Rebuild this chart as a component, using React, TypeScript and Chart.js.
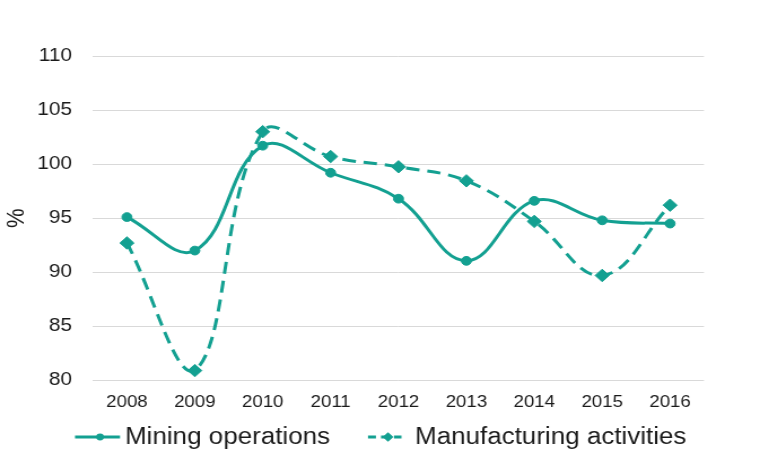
import React, { useEffect, useRef } from "react";
import { Chart, registerables } from "chart.js";

Chart.register(...registerables);

const categories = ["2008", "2009", "2010", "2011", "2012", "2013", "2014", "2015", "2016"];
const miningValues = [95.1, 92.0, 101.7, 99.2, 96.8, 91.05, 96.6, 94.8, 94.5];
const manufacturingValues = [92.7, 80.9, 103.0, 100.7, 99.75, 98.45, 94.7, 89.7, 96.2];
const seriesLabels = ["Mining operations", "Manufacturing activities"];
const yTicks = [80, 85, 90, 95, 100, 105, 110];

const TEAL = "#13A091";
const TEXT = "#1a1a1a";
const FONT = '"Liberation Sans", Arial, sans-serif';
const W = 673; // logical width, stretched horizontally to 760
const H = 473;
const S = 760 / W;

const legendPlugin = {
  id: "customLegend",
  afterDraw(chart: any) {
    const ctx = chart.ctx as CanvasRenderingContext2D;
    const y = 437;
    const items = [
      { x0: 66.4, x1: 106.3, mx: 88.6, tx: 110.7, dash: [] as number[], style: "circle" },
      { x0: 325.9, x1: 355.5, mx: 343.6, tx: 367.5, dash: [7, 4.5], style: "diamond" },
    ];
    items.forEach((it, i) => {
      const ds = chart.data.datasets[i];
      ctx.save();
      ctx.strokeStyle = ds.borderColor;
      ctx.lineWidth = 3;
      ctx.setLineDash(it.dash);
      ctx.beginPath();
      ctx.moveTo(it.x0, y);
      ctx.lineTo(it.x1, y);
      ctx.stroke();
      ctx.setLineDash([]);
      ctx.fillStyle = ds.borderColor;
      ctx.beginPath();
      if (it.style === "circle") {
        ctx.arc(it.mx, y, 3.4, 0, Math.PI * 2);
      } else {
        const r = 4.8;
        ctx.moveTo(it.mx, y - r);
        ctx.lineTo(it.mx + r, y);
        ctx.lineTo(it.mx, y + r);
        ctx.lineTo(it.mx - r, y);
        ctx.closePath();
      }
      ctx.fill();
      ctx.fillStyle = TEXT;
      ctx.font = `23px ${FONT}`;
      ctx.textBaseline = "middle";
      ctx.textAlign = "left";
      ctx.fillText(ds.label, it.tx, y + 1);
      ctx.restore();
    });
  },
};

export default function App() {
  const canvasRef = useRef<HTMLCanvasElement | null>(null);

  useEffect(() => {
    document.body.style.margin = "0";
    const canvas = canvasRef.current;
    if (!canvas) return;
    const chart = new Chart(canvas, {
      type: "line",
      data: {
        labels: categories,
        datasets: [
          {
            label: seriesLabels[0],
            data: miningValues,
            borderColor: TEAL,
            backgroundColor: TEAL,
            borderWidth: 3,
            tension: 0.4,
            pointStyle: "circle",
            pointRadius: 4.4,
            pointBorderWidth: 1,
            pointBackgroundColor: TEAL,
            pointBorderColor: TEAL,
            fill: false,
          },
          {
            label: seriesLabels[1],
            data: manufacturingValues,
            borderColor: TEAL,
            backgroundColor: TEAL,
            borderWidth: 3,
            borderDash: [12, 7],
            tension: 0.4,
            pointStyle: "rectRot",
            pointRadius: 6.2,
            pointBorderWidth: 1,
            pointBackgroundColor: TEAL,
            pointBorderColor: TEAL,
            fill: false,
          },
        ],
      },
      options: {
        responsive: true,
        maintainAspectRatio: false,
        animation: false,
        layout: { padding: { top: 56, right: W - 704 / S, bottom: 0, left: 0 } },
        plugins: {
          legend: { display: false },
          tooltip: { enabled: false },
          title: { display: false },
        },
        scales: {
          x: {
            offset: true,
            grid: { display: false, drawTicks: false },
            border: { display: false },
            ticks: {
              color: TEXT,
              font: { family: FONT, size: 16.5 },
              padding: 12,
              maxRotation: 0,
              autoSkip: false,
            },
            afterFit: (axis: any) => {
              axis.height = 92.7;
            },
          },
          y: {
            min: 80,
            max: 110,
            afterBuildTicks: (axis: any) => {
              axis.ticks = yTicks.map((v) => ({ value: v }));
            },
            grid: { color: "#d9d9d9", lineWidth: 1, drawTicks: false },
            border: { display: false },
            ticks: {
              color: TEXT,
              font: { family: FONT, size: 18.5 },
              padding: 93 / S - 72 / S,
            },
            title: {
              display: true,
              text: "%",
              color: TEXT,
              font: { family: FONT, size: 22 },
              padding: { top: 2, bottom: 0 },
            },
            afterFit: (axis: any) => {
              axis.width = 93 / S;
            },
          },
        },
      },
      plugins: [legendPlugin],
    });
    return () => chart.destroy();
  }, []);

  return (
    <div
      style={{
        width: W,
        height: H,
        transform: `scaleX(${S})`,
        transformOrigin: "0 0",
        position: "relative",
      }}
    >
      <canvas ref={canvasRef} />
    </div>
  );
}
